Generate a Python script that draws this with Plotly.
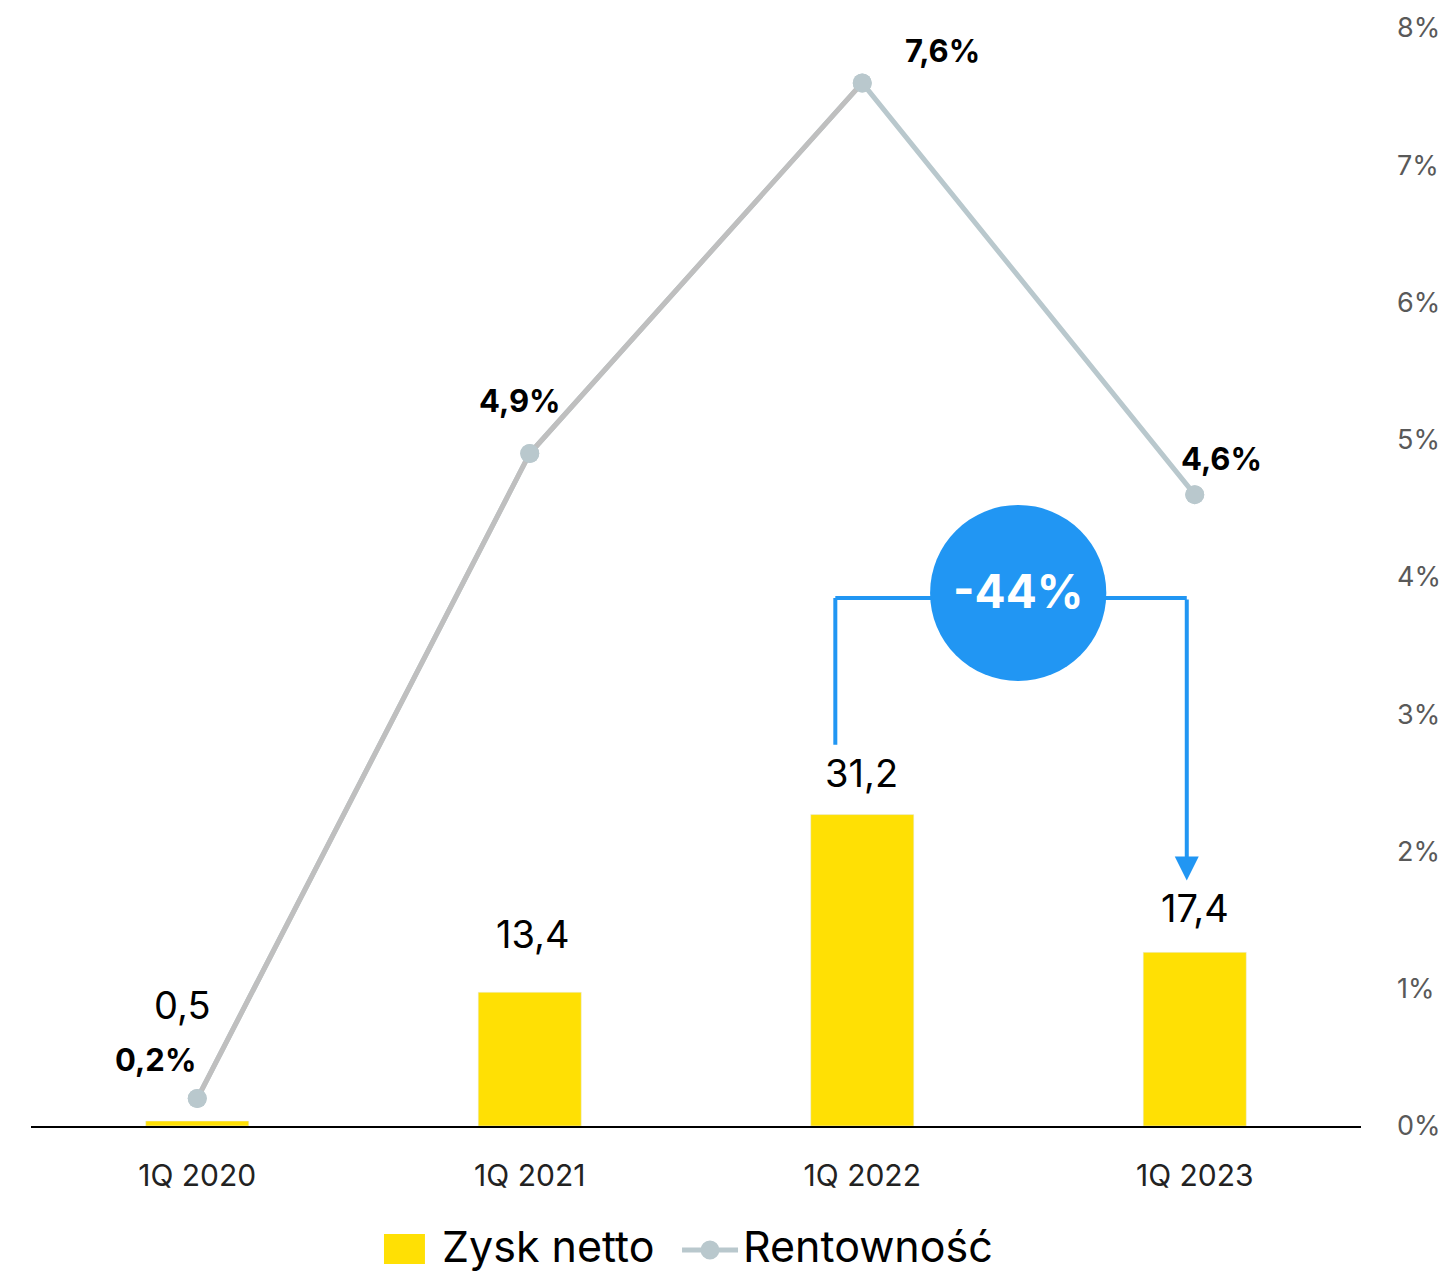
import plotly.graph_objects as go

categories = ["1Q 2020", "1Q 2021", "1Q 2022", "1Q 2023"]
zysk_netto = [0.5, 13.4, 31.2, 17.4]
zysk_labels = ["0,5", "13,4", "31,2", "17,4"]
rentownosc = [0.2, 4.9, 7.6, 4.6]
rent_labels = ["0,2%", "4,9%", "7,6%", "4,6%"]
right_ticks = [0, 1, 2, 3, 4, 5, 6, 7, 8]
change_label = "-44%"
legend_names = ["Zysk netto", "Rentowność"]

FONT = "Inter"
YELLOW = "#FFE004"
GRAY = "#BFBFBF"
BLUEGRAY = "#B9C8CD"
BLUE = "#2196F3"

xi = list(range(len(categories)))

fig = go.Figure()
fig.add_trace(go.Bar(x=xi, y=zysk_netto, name=legend_names[0], marker_color=YELLOW,
                     width=0.31, showlegend=False))
fig.add_trace(go.Scatter(x=xi, y=rentownosc, name=legend_names[1], mode="lines+markers",
                         line=dict(color=BLUEGRAY, width=5), showlegend=False,
                         marker=dict(color=BLUEGRAY, size=19), yaxis="y2"))
fig.add_trace(go.Scatter(x=xi[:3], y=rentownosc[:3], mode="lines", showlegend=False,
                         line=dict(color=GRAY, width=5), yaxis="y2", hoverinfo="skip"))
fig.add_trace(go.Scatter(x=xi, y=rentownosc, mode="markers", showlegend=False,
                         marker=dict(color=BLUEGRAY, size=19), yaxis="y2", hoverinfo="skip"))

annotations = []
bar_shifts = [(-15, 91), (3, 33), (-1, 17), (0, 19)]
for i, (v, t) in enumerate(zip(zysk_netto, zysk_labels)):
    dx, dy = bar_shifts[i]
    annotations.append(dict(x=xi[i], y=v, xref="x", yref="y", text=t, showarrow=False,
                            yanchor="bottom", xshift=dx, yshift=dy,
                            font=dict(family=FONT, size=38, color="#000000")))
rent_shifts = [(-42, 39), (-10, 53), (80, 32), (27, 36)]
for i, (v, t) in enumerate(zip(rentownosc, rent_labels)):
    dx, dy = rent_shifts[i]
    annotations.append(dict(x=xi[i], y=v, xref="x", yref="y2", text="<b>" + t + "</b>",
                            showarrow=False, xshift=dx, yshift=dy,
                            font=dict(family=FONT, size=31, color="#000000")))

# bracket
xl, xr = 1.919, 2.976
yh = 52.9
shapes = [
    dict(type="line", xref="x", yref="y", x0=xl, x1=xl, y0=38.2, y1=yh,
         line=dict(color=BLUE, width=4)),
    dict(type="line", xref="x", yref="y", x0=xl, x1=xr, y0=yh, y1=yh,
         line=dict(color=BLUE, width=4)),
    dict(type="circle", xref="x", yref="y", x0=2.469 - 0.265, x1=2.469 + 0.265,
         y0=53.4 - 8.82, y1=53.4 + 8.82, fillcolor=BLUE, line=dict(width=0)),
]
annotations.append(dict(x=xr, y=24.6, ax=xr, ay=yh, xref="x", yref="y", axref="x", ayref="y",
                        showarrow=True, arrowhead=2, arrowsize=1.2, arrowwidth=4,
                        arrowcolor=BLUE, text=""))
annotations.append(dict(x=2.469, y=53.4, xref="x", yref="y", text="<b>" + change_label + "</b>",
                        showarrow=False, yshift=2,
                        font=dict(family=FONT, size=46, color="#FFFFFF")))

# manual legend (paper coordinates)
shapes += [
    dict(type="rect", xref="paper", yref="paper", x0=0.2654, x1=0.2962, y0=-0.1257, y1=-0.0984,
         fillcolor=YELLOW, line=dict(width=0)),
    dict(type="line", xref="paper", yref="paper", x0=0.4895, x1=0.5316, y0=-0.1129, y1=-0.1129,
         line=dict(color=BLUEGRAY, width=5)),
    dict(type="circle", xref="paper", yref="paper", x0=0.5105 - 0.0071, x1=0.5105 + 0.0071,
         y0=-0.1129 - 0.0086, y1=-0.1129 + 0.0086, fillcolor=BLUEGRAY, line=dict(width=0)),
]
annotations += [
    dict(x=0.3083, y=-0.109, xref="paper", yref="paper", text=legend_names[0], showarrow=False,
         xanchor="left", yanchor="middle", borderpad=0,
         font=dict(family=FONT, size=43, color="#000000")),
    dict(x=0.5346, y=-0.109, xref="paper", yref="paper", text=legend_names[1], showarrow=False,
         xanchor="left", yanchor="middle", borderpad=0,
         font=dict(family=FONT, size=43, color="#000000")),
]

fig.update_layout(
    width=1440, height=1264,
    margin=dict(l=23, r=87, t=20, b=146),
    paper_bgcolor="white", plot_bgcolor="white",
    font=dict(family=FONT),
    showlegend=False,
    xaxis=dict(tickvals=xi, ticktext=categories, range=[-0.5, 3.5], automargin=False,
               showgrid=False, zeroline=False, showline=True, linecolor="#000000",
               linewidth=2, ticks="", ticklabelstandoff=22,
               tickfont=dict(family=FONT, size=30, color="#222222")),
    yaxis=dict(range=[0, 110], visible=False, showgrid=False, zeroline=False, automargin=False),
    yaxis2=dict(range=[0, 8], overlaying="y", side="right", showgrid=False, automargin=False,
                zeroline=False, showline=False, tickvals=right_ticks,
                ticktext=[f"{v}%" for v in right_ticks], ticks="",
                ticklabelstandoff=35,
                tickfont=dict(family=FONT, size=27, color="#595959")),
    shapes=shapes,
    annotations=annotations,
)

fig.write_html("out.html")
